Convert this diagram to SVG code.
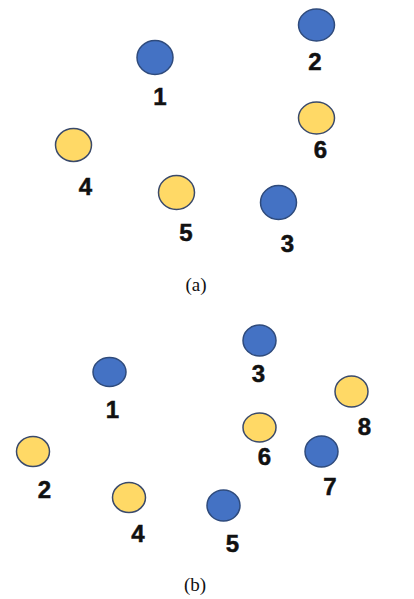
<svg xmlns="http://www.w3.org/2000/svg" width="414" height="599" viewBox="0 0 414 599">
<style>
.b{fill:#4472C4;stroke:#2F4B7C;stroke-width:1.5}
.y{fill:#FFD966;stroke:#3A4A6B;stroke-width:1.5}
.l{font-family:"Liberation Sans",Arial,sans-serif;font-weight:bold;font-size:24px;fill:#111;stroke:#111;stroke-width:0.5;text-anchor:middle}
.c{font-family:"Liberation Serif","Times New Roman",serif;font-size:19px;fill:#111;text-anchor:middle}
</style>
<rect width="414" height="599" fill="#fff"/>
<g id="a">
<g id="a1"><ellipse class="b" cx="155" cy="57.5" rx="18" ry="17"/><text class="l" x="160" y="105">1</text></g>
<g id="a2"><ellipse class="b" cx="316.5" cy="25" rx="18" ry="16"/><text class="l" x="315" y="70">2</text></g>
<g id="a6"><ellipse class="y" cx="316.5" cy="118" rx="18" ry="16"/><text class="l" x="320.5" y="158">6</text></g>
<g id="a4"><ellipse class="y" cx="73.5" cy="145" rx="18" ry="16.5"/><text class="l" x="85.5" y="195">4</text></g>
<g id="a5"><ellipse class="y" cx="176.5" cy="192.5" rx="18" ry="17"/><text class="l" x="186" y="241">5</text></g>
<g id="a3"><ellipse class="b" cx="278.5" cy="202.5" rx="18" ry="17"/><text class="l" x="287.5" y="252">3</text></g>
<text class="c" x="196" y="291">(a)</text>
</g>
<g id="b">
<g id="b1"><ellipse class="b" cx="109.5" cy="372" rx="16.5" ry="14.5"/><text class="l" x="112.5" y="418">1</text></g>
<g id="b3"><ellipse class="b" cx="259.5" cy="340.5" rx="16.5" ry="15.5"/><text class="l" x="258.5" y="382">3</text></g>
<g id="b8"><ellipse class="y" cx="351.5" cy="391.5" rx="16.5" ry="15.5"/><text class="l" x="364.5" y="435">8</text></g>
<g id="b6"><ellipse class="y" cx="259.5" cy="427.5" rx="16.5" ry="14.5"/><text class="l" x="264.5" y="465">6</text></g>
<g id="b7"><ellipse class="b" cx="321.5" cy="451.5" rx="16.5" ry="15.5"/><text class="l" x="330" y="495">7</text></g>
<g id="b2"><ellipse class="y" cx="33" cy="451.5" rx="16.5" ry="15"/><text class="l" x="44.5" y="498">2</text></g>
<g id="b4"><ellipse class="y" cx="129" cy="497.5" rx="16.5" ry="15"/><text class="l" x="138" y="542">4</text></g>
<g id="b5"><ellipse class="b" cx="223.5" cy="505.5" rx="16.5" ry="15.5"/><text class="l" x="232.5" y="552">5</text></g>
<text class="c" x="195" y="591">(b)</text>
</g>
<g id="connectors"/>
</svg>
